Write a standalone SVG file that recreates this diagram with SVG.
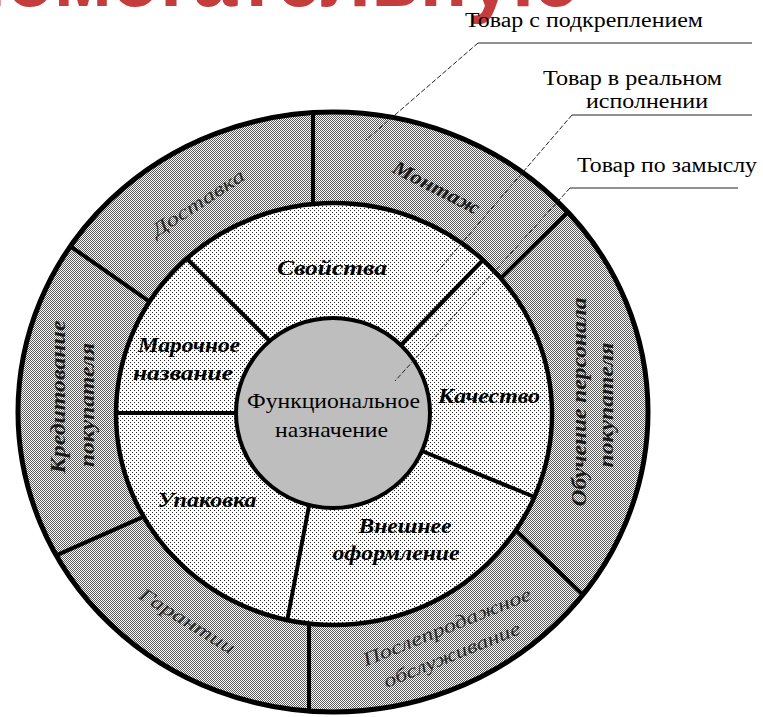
<svg xmlns="http://www.w3.org/2000/svg" width="763" height="717" viewBox="0 0 763 717">
<defs>
<pattern id="pOuter" width="2" height="2" patternUnits="userSpaceOnUse">
<rect width="2" height="2" fill="#ffffff"/>
<rect width="1" height="1" fill="#5a5a5a"/>
<rect x="1" y="1" width="1" height="1" fill="#5a5a5a"/>
</pattern>
<pattern id="pMid" width="4" height="4" patternUnits="userSpaceOnUse">
<rect width="4" height="4" fill="#ffffff"/>
<rect width="1" height="1" fill="#222222"/>
<rect x="2" y="2" width="1" height="1" fill="#222222"/>
</pattern>
</defs>
<style>
.ring{stroke:#000;fill:none}
.dv{stroke:#000;stroke-width:4;fill:none}
.lead{stroke:#222;stroke-width:1;fill:none}
.lead2{stroke:#222;stroke-width:1;fill:none;stroke-dasharray:5 2}
text{font-family:"Liberation Serif","Times New Roman",serif}
.mid{font-size:21px;font-weight:bold;font-style:italic;fill:#000}
.out{font-size:19px;font-style:italic;fill:#2a2a2a}
.outb{font-size:20px;font-style:italic;font-weight:bold;fill:#1a1a1a}
.cen{font-size:22px;fill:#000}
.top{font-size:20px;fill:#000}
.head{font-family:"Liberation Sans",Arial,sans-serif;font-size:86px;font-weight:bold;fill:#C43C3C}
</style>

<text class="head" x="-42" y="6" textLength="622" lengthAdjust="spacingAndGlyphs">помогательную</text>

<g id="fills">
<ellipse cx="333" cy="412" rx="315" ry="300" fill="url(#pOuter)"/>
<ellipse cx="334" cy="414" rx="218" ry="211" fill="url(#pMid)"/>
<ellipse cx="333" cy="413" rx="97" ry="95" fill="#bebebe"/>
</g>

<g id="dividers">
<line class="dv" x1="269.7" y1="341" x2="186.7" y2="258.5"/>
<line class="dv" x1="116" y1="413" x2="236" y2="413"/>
<line class="dv" x1="309" y1="506" x2="287.3" y2="620"/>
<line class="dv" x1="422" y1="451" x2="534.5" y2="497"/>
<line class="dv" x1="401" y1="345" x2="483" y2="260"/>
<line class="dv" x1="313" y1="204" x2="313" y2="113"/>
<line class="dv" x1="501" y1="278" x2="568" y2="212"/>
<line class="dv" x1="516" y1="530.5" x2="583" y2="595"/>
<line class="dv" x1="309" y1="624" x2="309" y2="711"/>
<line class="dv" x1="143.6" y1="516.7" x2="56.3" y2="555.4"/>
<line class="dv" x1="149.5" y1="301.7" x2="70.4" y2="246.3"/>
</g>

<g id="outlines">
<ellipse class="ring" cx="333" cy="412" rx="315" ry="300" stroke-width="5"/>
<ellipse class="ring" cx="334" cy="414" rx="218" ry="211" stroke-width="4.5"/>
<ellipse class="ring" cx="333" cy="413" rx="97" ry="95" stroke-width="4"/>
</g>

<g id="core">
<text class="cen" x="333.5" y="408" text-anchor="middle" textLength="173" lengthAdjust="spacingAndGlyphs">Функциональное</text>
<text class="cen" x="331.5" y="437" text-anchor="middle" textLength="113" lengthAdjust="spacingAndGlyphs">назначение</text>
</g>

<g id="seg-svoistva"><text class="mid" x="332" y="275" text-anchor="middle" textLength="110" lengthAdjust="spacingAndGlyphs">Свойства</text></g>
<g id="seg-marochnoe">
<text class="mid" x="189" y="352" text-anchor="middle" textLength="102" lengthAdjust="spacingAndGlyphs">Марочное</text>
<text class="mid" x="183" y="380" text-anchor="middle" textLength="100" lengthAdjust="spacingAndGlyphs">название</text>
</g>
<g id="seg-kachestvo"><text class="mid" x="489" y="403" text-anchor="middle" textLength="102" lengthAdjust="spacingAndGlyphs">Качество</text></g>
<g id="seg-upakovka"><text class="mid" x="207" y="507" text-anchor="middle" textLength="99" lengthAdjust="spacingAndGlyphs">Упаковка</text></g>
<g id="seg-vneshnee">
<text class="mid" x="405" y="533" text-anchor="middle" textLength="93" lengthAdjust="spacingAndGlyphs">Внешнее</text>
<text class="mid" x="396" y="560" text-anchor="middle" textLength="127" lengthAdjust="spacingAndGlyphs">оформление</text>
</g>

<g id="seg-dostavka"><text class="out" transform="translate(198,203) rotate(-33)" x="0" y="6" text-anchor="middle" textLength="107" lengthAdjust="spacingAndGlyphs">Доставка</text></g>
<g id="seg-montazh"><text class="outb" transform="translate(436,188) rotate(27)" x="0" y="6" text-anchor="middle" textLength="95" lengthAdjust="spacingAndGlyphs">Монтаж</text></g>
<g id="seg-obuchenie">
<text class="outb" transform="translate(586,402) rotate(-90)" x="0" y="0" text-anchor="middle" textLength="209" lengthAdjust="spacingAndGlyphs">Обучение персонала</text>
<text class="outb" transform="translate(613,405) rotate(-90)" x="0" y="0" text-anchor="middle" textLength="125" lengthAdjust="spacingAndGlyphs">покупателя</text>
</g>
<g id="seg-poslepr">
<text class="out" transform="translate(447,627) rotate(-22)" x="0" y="6" text-anchor="middle" textLength="180" lengthAdjust="spacingAndGlyphs">Послепродажное</text>
<text class="out" transform="translate(452,655) rotate(-22)" x="0" y="6" text-anchor="middle" textLength="146" lengthAdjust="spacingAndGlyphs">обслуживание</text>
</g>
<g id="seg-garantii"><text class="out" transform="translate(187,621) rotate(31.5)" x="0" y="6" text-anchor="middle" textLength="109" lengthAdjust="spacingAndGlyphs">Гарантии</text></g>
<g id="seg-kredit">
<text class="outb" transform="translate(65,397) rotate(-90)" x="0" y="0" text-anchor="middle" textLength="153" lengthAdjust="spacingAndGlyphs">Кредитование</text>
<text class="outb" transform="translate(94,405) rotate(-90)" x="0" y="0" text-anchor="middle" textLength="124" lengthAdjust="spacingAndGlyphs">покупателя</text>
</g>

<g id="callouts">
<text class="top" x="465" y="27" textLength="238" lengthAdjust="spacingAndGlyphs">Товар с подкреплением</text>
<text class="top" x="543" y="85" textLength="179" lengthAdjust="spacingAndGlyphs">Товар в реальном</text>
<text class="top" x="586" y="108" textLength="122" lengthAdjust="spacingAndGlyphs">исполнении</text>
<text class="top" x="577" y="172" textLength="180" lengthAdjust="spacingAndGlyphs">Товар по замыслу</text>
</g>

<g id="connectors">
<line class="lead" x1="478" y1="43" x2="752" y2="43"/>
<line class="lead2" x1="478" y1="43" x2="366" y2="140"/>
<line class="lead" x1="572" y1="115" x2="752" y2="115"/>
<line class="lead2" x1="572" y1="115" x2="437" y2="272"/>
<line class="lead" x1="570" y1="188" x2="738" y2="188"/>
<line class="lead2" x1="570" y1="188" x2="395" y2="381"/>
</g>
</svg>
